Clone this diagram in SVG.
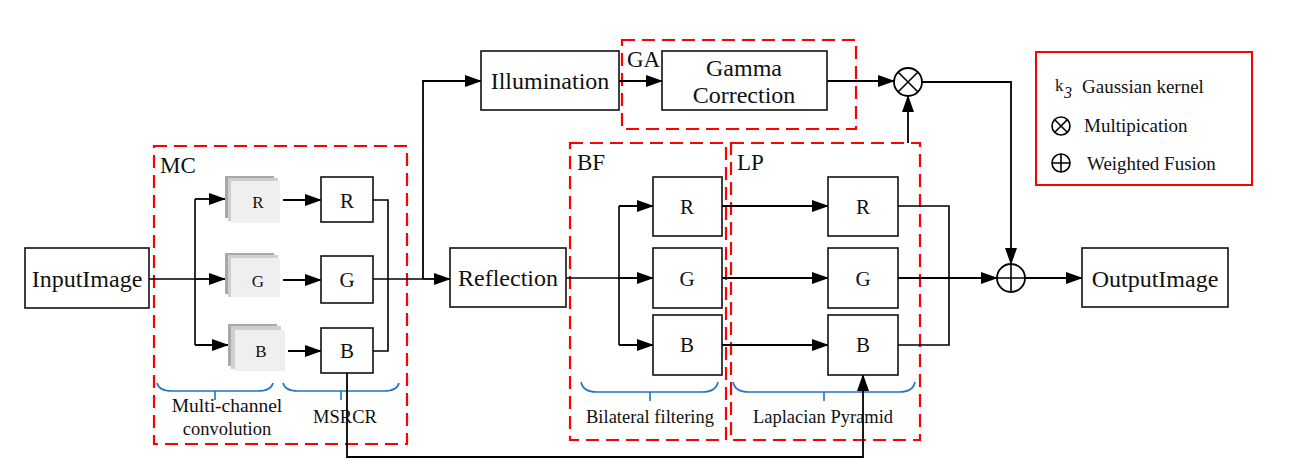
<svg xmlns="http://www.w3.org/2000/svg" width="1300" height="469" viewBox="0 0 1300 469" font-family="'Liberation Serif', 'DejaVu Serif', serif">
<defs>
<marker id="ah" markerUnits="userSpaceOnUse" markerWidth="17" markerHeight="12" refX="16" refY="6" orient="auto">
<path d="M0,0 L17,6 L0,12 z" fill="#000"/>
</marker>
<style>
text{font-family:'Liberation Serif','DejaVu Serif',serif;fill:#111}
.box{fill:#fff;stroke:#111;stroke-width:1.6}
.ln{fill:none;stroke:#000;stroke-width:1.6}
.ar{fill:none;stroke:#000;stroke-width:1.8;marker-end:url(#ah)}
.grp{fill:none;stroke:#ff0000;stroke-width:2.2;stroke-dasharray:13 7}
.brace{fill:none;stroke:#1f74c4;stroke-width:1.6}
.big{font-size:24px}
.gl{font-size:23px}
.mid{font-size:21px}
.sm{font-size:17px}
.lab{font-size:18.5px}
.leg{font-size:19px}
.c{text-anchor:middle}
</style>
</defs>
<rect width="1300" height="469" fill="#fff"/>

<!-- group frames -->
<g id="MC">
<rect class="grp" x="154" y="146" width="253" height="298"/>
<text class="gl" x="160" y="173">MC</text>
<path class="brace" d="M157,383 Q159,391 172,391 L258,391 Q271,391 273,383 M215,391 L215,400"/>
<path class="brace" d="M283,383 Q285,391 298,391 L384,391 Q397,391 399,383 M341,391 L341,400"/>
<text class="lab c" x="227" y="412" style="font-size:19.5px">Multi-channel</text>
<text class="lab c" x="227" y="435">convolution</text>
<text class="lab c" x="345" y="423">MSRCR</text>
</g>
<g id="GA">
<rect class="grp" x="622" y="40" width="234" height="89"/>
<text class="gl" x="627" y="67">GA</text>
</g>
<g id="BF">
<rect class="grp" x="570" y="143" width="156" height="297"/>
<text class="gl" x="577" y="170">BF</text>
<path class="brace" d="M581,382 Q583,392 597,392 L702,392 Q716,392 718,382 M650,392 L650,401"/>
<text class="lab c" x="650" y="423">Bilateral filtering</text>
</g>
<g id="LP">
<rect class="grp" x="731" y="143" width="189" height="297"/>
<text class="gl" x="737" y="170">LP</text>
<path class="brace" d="M733,382 Q735,392 749,392 L899,392 Q913,392 915,382 M824,392 L824,401"/>
<text class="lab c" x="823" y="423">Laplacian Pyramid</text>
</g>

<!-- connectors -->
<g id="connectors">
<path class="ln" d="M149,279 L195,279 M195,199 L195,345"/>
<path class="ar" d="M195,199 L225,199"/>
<path class="ar" d="M195,279 L225,279"/>
<path class="ar" d="M195,345 L228,345"/>
<path class="ar" d="M283,200 L321,200"/>
<path class="ar" d="M283,280 L321,280"/>
<path class="ar" d="M288,351 L321,351"/>
<path class="ln" d="M373,200 L388,200 L388,351 L373,351"/>
<path class="ln" d="M373,279 L423,279"/>
<path class="ar" d="M423,279 L423,81 L481,81"/>
<path class="ar" d="M423,279 L450,279"/>
<path class="ar" d="M619,81 L662,81"/>
<path class="ar" d="M827,81 L894,81"/>
<path class="ar" d="M908,143 L908,96"/>
<path class="ar" d="M922,82 L1011,82 L1011,264"/>
<path class="ln" d="M566,278 L619,278 M619,206 L619,345"/>
<path class="ar" d="M619,206 L653,206"/>
<path class="ar" d="M619,278 L653,278"/>
<path class="ar" d="M619,345 L653,345"/>
<path class="ar" d="M722,206 L828,206"/>
<path class="ar" d="M722,278 L828,278"/>
<path class="ar" d="M722,345 L828,345"/>
<path class="ln" d="M898,206 L949,206 L949,345 L898,345"/>
<path class="ar" d="M898,278 L997,278"/>
<path class="ar" d="M1025,278 L1082,278"/>
<path class="ar" d="M347,373 L347,457 L863,457 L863,375"/>
</g>

<!-- nodes -->
<g id="InputImage"><rect class="box" x="25" y="248" width="124" height="60"/><text class="big c" x="87" y="287">InputImage</text></g>

<g id="stackR">
<rect x="225" y="176" width="49" height="42" fill="#a8a8a8"/>
<rect x="228" y="178" width="50" height="43" fill="#cfcfcf"/>
<rect x="231" y="181" width="49" height="42" fill="#efefef"/>
<text class="sm c" x="258" y="208">R</text>
</g>
<g id="stackG">
<rect x="225" y="253" width="49" height="41" fill="#a8a8a8"/>
<rect x="228" y="255" width="50" height="42" fill="#cfcfcf"/>
<rect x="231" y="258" width="49" height="39" fill="#efefef"/>
<text class="sm c" x="258" y="287">G</text>
</g>
<g id="stackB">
<rect x="228" y="324" width="49" height="42" fill="#a8a8a8"/>
<rect x="231" y="326" width="50" height="43" fill="#cfcfcf"/>
<rect x="235" y="330" width="50" height="41" fill="#efefef"/>
<text class="sm c" x="261" y="357">B</text>
</g>

<g id="msrR"><rect class="box" x="321" y="177" width="52" height="45"/><text class="mid c" x="347" y="208">R</text></g>
<g id="msrG"><rect class="box" x="321" y="256" width="52" height="47"/><text class="mid c" x="347" y="287">G</text></g>
<g id="msrB"><rect class="box" x="321" y="328" width="52" height="45"/><text class="mid c" x="347" y="358">B</text></g>

<g id="Illumination"><rect class="box" x="481" y="51" width="138" height="59"/><text class="big c" x="550" y="89">Illumination</text></g>
<g id="Gamma"><rect class="box" x="662" y="51" width="165" height="59"/><text class="big c" x="744" y="76">Gamma</text><text class="big c" x="744" y="103">Correction</text></g>
<g id="Reflection"><rect class="box" x="450" y="248" width="116" height="59"/><text class="big c" x="508" y="286">Reflection</text></g>

<g id="bfR"><rect class="box" x="653" y="177" width="69" height="59"/><text class="mid c" x="687" y="214">R</text></g>
<g id="bfG"><rect class="box" x="653" y="248" width="69" height="60"/><text class="mid c" x="687" y="286">G</text></g>
<g id="bfB"><rect class="box" x="653" y="315" width="69" height="60"/><text class="mid c" x="687" y="352">B</text></g>

<g id="lpR"><rect class="box" x="828" y="177" width="70" height="59"/><text class="mid c" x="863" y="214">R</text></g>
<g id="lpG"><rect class="box" x="828" y="248" width="70" height="60"/><text class="mid c" x="863" y="286">G</text></g>
<g id="lpB"><rect class="box" x="828" y="315" width="70" height="60"/><text class="mid c" x="863" y="352">B</text></g>

<g id="mult"><circle cx="908" cy="82" r="14" fill="#fff" stroke="#000" stroke-width="1.8"/><path class="ln" d="M898,72 L918,92 M918,72 L898,92"/></g>
<g id="plus"><circle cx="1011" cy="278" r="14" fill="#fff" stroke="#000" stroke-width="1.8"/><path class="ln" d="M997,278 L1025,278 M1011,264 L1011,292"/></g>

<g id="OutputImage"><rect class="box" x="1082" y="248" width="146" height="59"/><text class="big c" x="1155" y="287">OutputImage</text></g>

<g id="legend">
<rect x="1036" y="52" width="216" height="133" fill="none" stroke="#ff0000" stroke-width="2"/>
<text x="1055" y="91" style="font-size:17px">k</text>
<text x="1064" y="98" style="font-size:16px;font-style:italic">3</text>
<text class="leg" x="1082" y="93">Gaussian kernel</text>
<circle cx="1061" cy="126" r="9" fill="none" stroke="#000" stroke-width="1.6"/>
<path class="ln" d="M1055,120 L1067,132 M1067,120 L1055,132"/>
<text class="leg" x="1084" y="132">Multipication</text>
<circle cx="1061" cy="163" r="9" fill="none" stroke="#000" stroke-width="1.6"/>
<path class="ln" d="M1052,163 L1070,163 M1061,154 L1061,172"/>
<text class="leg" x="1087" y="170">Weighted Fusion</text>
</g>
</svg>
